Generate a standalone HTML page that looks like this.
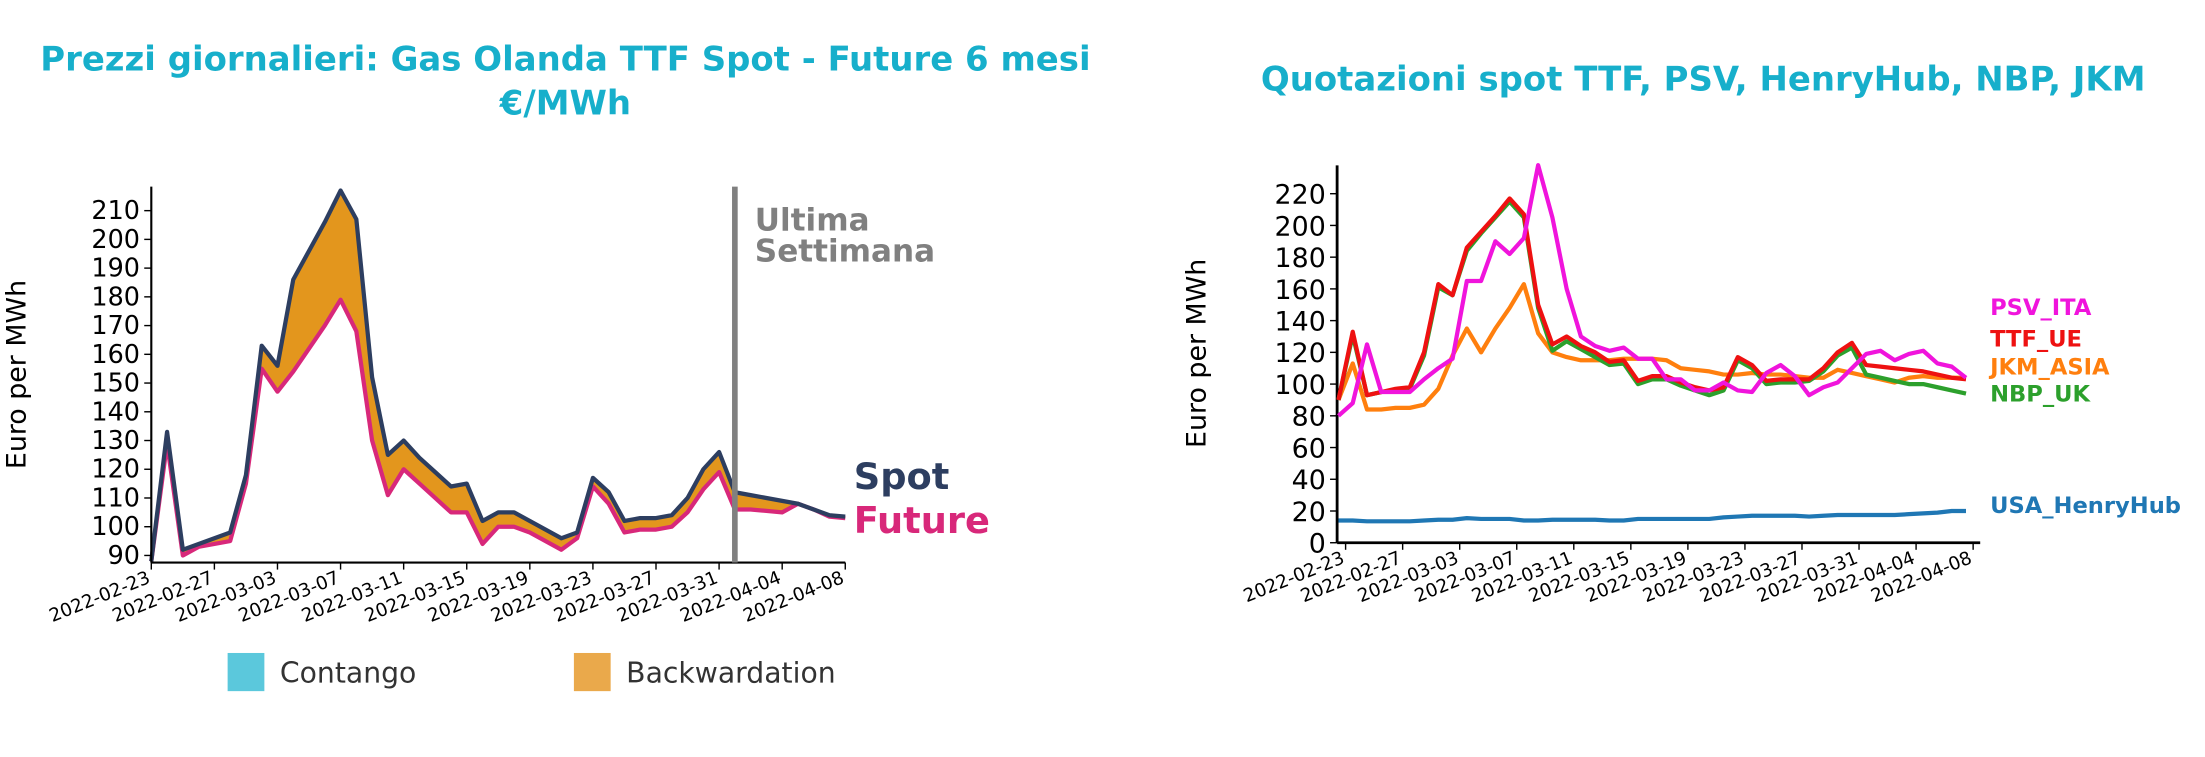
<!DOCTYPE html>
<html><head><meta charset="utf-8"><style>
html,body{margin:0;padding:0;background:#fff}
svg{display:block;font-family:"DejaVu Sans","Liberation Sans",sans-serif}
</style></head><body>
<svg id="s" width="2205" height="757" viewBox="0 0 1560 535.6">
<text x="400" y="50" text-anchor="middle" font-size="24" font-weight="bold" fill="#17afcb">Prezzi giornalieri: Gas Olanda TTF Spot - Future 6 mesi</text>
<text x="400" y="81" text-anchor="middle" font-size="24" font-weight="bold" fill="#17afcb">€/MWh</text>
<text x="1205" y="64" text-anchor="middle" font-size="24" font-weight="bold" fill="#17afcb">Quotazioni spot TTF, PSV, HenryHub, NBP, JKM</text>
<g id="left"></g>
<g id="right"></g>
</svg>
<script>
const dateLabels=["2022-02-23","2022-02-27","2022-03-03","2022-03-07","2022-03-11","2022-03-15","2022-03-19","2022-03-23","2022-03-27","2022-03-31","2022-04-04","2022-04-08"];
const spot=[88,133,92,94,96,98,118,163,156,186,196,206,217,207,152,125,130,124,119,114,115,102,105,105,102,99,96,98,117,112,102,103,103,104,110,120,126,112,111,110,109,108,106,104,103.5];
const future=[88,129,90,93,94,95,115,155,147,154,162,170,179,168,130,111,120,115,110,105,105,94,100,100,98,95,92,96,114,108,98,99,99,100,105,113,119,106,106,105.5,105,108,106,103.5,103];
const leftTicks=[90,100,110,120,130,140,150,160,170,180,190,200,210];
const ttf=[90,133,93,95,97,98,120,163,156,186,196,206,217,207,150,125,130,124,120,114,115,102,105,105,101,98,96,98,117,112,102,103,103,103,110,120,126,112,111,110,109,108,106,104,103];
const nbp=[90,131,93,95,96,97,118,161,156,184,195,205,215,205,148,121,127,122,117,112,113,100,103,103,99,96,93,96,115,110,100,101,101,102,108,118,123,106,104,102,100,100,98,96,94];
const psv=[80,88,125,95,95,95,103,110,116,165,165,190,182,192,238,205,160,130,124,121,123,116,116,103,103,96,96,101,96,95,107,112,105,93,98,101,110,119,121,115,119,121,113,111,104];
const jkm=[90,113,84,84,85,85,87,97,118,135,120,135,148,163,132,120,117,115,115,115,116,116,116,115,110,109,108,106,106,107,106,106,105,104,104,109,107,105,103,101,104,105,104,104,104];
const hh=[14,14,13.5,13.5,13.5,13.5,14,14.5,14.5,15.5,15,15,15,14,14,14.5,14.5,14.5,14.5,14,14,15,15,15,15,15,15,16,16.5,17,17,17,17,16.5,17,17.5,17.5,17.5,17.5,17.5,18,18.5,19,20,20];
const rightTicks=[0,20,40,60,80,100,120,140,160,180,200,220];
const NS="http://www.w3.org/2000/svg";
function mk(p,t,a){const e=document.createElementNS(NS,t);for(const k in a)e.setAttribute(k,a[k]);p.appendChild(e);return e;}
// left chart
const L=document.getElementById('left');
const lx=d=>107+d*(491/44), ly=v=>393-(v-90)*2.033;
let pts=spot.map((v,i)=>lx(i)+','+ly(v)).join(' ');
let fpts=future.map((v,i)=>lx(i)+','+ly(v)).reverse().join(' ');
let area=mk(L,'polygon',{points:pts+' '+fpts,fill:'#e3961d'});


let fl=mk(L,'polyline',{points:future.map((v,i)=>lx(i)+','+ly(v)).join(' '),fill:'none',stroke:'#d8287a','stroke-width':3,'stroke-linejoin':'round'});


let sl=mk(L,'polyline',{points:pts,fill:'none',stroke:'#2d3e60','stroke-width':3,'stroke-linejoin':'round'});


mk(L,'line',{x1:107,y1:132,x2:107,y2:398,stroke:'#000','stroke-width':1.5});
mk(L,'line',{x1:107,y1:398,x2:598,y2:398,stroke:'#000','stroke-width':1.5});
leftTicks.forEach(v=>{mk(L,'line',{x1:102,y1:ly(v),x2:107,y2:ly(v),stroke:'#000'});
 let t=mk(L,'text',{x:99,y:ly(v)+6,'text-anchor':'end','font-size':18});t.textContent=v;
 
 });
dateLabels.forEach((d,i)=>{const x=lx(i*4);mk(L,'line',{x1:x,y1:398,x2:x,y2:403,stroke:'#000'});
 let t=mk(L,'text',{x:x,y:412,'text-anchor':'end','font-size':13,transform:`rotate(-22 ${x} 412)`});t.textContent=d;
 
 });
mk(L,'line',{x1:lx(37),y1:132,x2:lx(37),y2:398,stroke:'#808080','stroke-width':4});
let y1=mk(L,'text',{x:18,y:265,'text-anchor':'middle','font-size':19,transform:'rotate(-90 18 265)'});y1.textContent='Euro per MWh';


[['Ultima',163],['Settimana',185]].forEach(([s,y])=>{let t=mk(L,'text',{x:534,y:y,'font-size':22,'font-weight':'bold',fill:'#808080'});t.textContent=s;
 
 });
let sp=mk(L,'text',{x:604,y:346,'font-size':26,'font-weight':'bold',fill:'#2d3e60'});sp.textContent='Spot';


let fu=mk(L,'text',{x:604,y:377,'font-size':26,'font-weight':'bold',fill:'#d8287a'});fu.textContent='Future';


[[161,'#5bc8dc','Contango'],[406,'#eaa94b','Backwardation']].forEach(([x,c,s])=>{
 let r=mk(L,'rect',{x:x,y:462,width:26,height:27,fill:c});
 
 
 let t=mk(L,'text',{x:x+37,y:483,'font-size':20,fill:'#333'});t.textContent=s;
 
 });
// right chart
const R=document.getElementById('right');
const rx=d=>952+(d-0.5)*(444/44), ry=v=>384-v*1.1225;
mk(R,'line',{x1:946,y1:117,x2:946,y2:384,stroke:'#000','stroke-width':2});
mk(R,'line',{x1:946,y1:384,x2:1401,y2:384,stroke:'#000','stroke-width':2});
rightTicks.forEach(v=>{mk(R,'line',{x1:941,y1:ry(v),x2:946,y2:ry(v),stroke:'#000'});
 let t=mk(R,'text',{x:938,y:ry(v)+7,'text-anchor':'end','font-size':19});t.textContent=v;
 
 });
dateLabels.forEach((d,i)=>{const x=952+i*4*(444/44);mk(R,'line',{x1:x,y1:384,x2:x,y2:389,stroke:'#000'});
 let t=mk(R,'text',{x:x,y:398,'text-anchor':'end','font-size':13,transform:`rotate(-22 ${x} 398)`});t.textContent=d;
 
 });
let y2=mk(R,'text',{x:853,y:250,'text-anchor':'middle','font-size':19,transform:'rotate(-90 853 250)'});y2.textContent='Euro per MWh';


[[jkm,'#ff7f0e','JKM_ASIA',265],[nbp,'#2ca02c','NBP_UK',284],[ttf,'#ee1111','TTF_UE',245],[psv,'#f014dc','PSV_ITA',223],[hh,'#1f77b4','USA_HenryHub',363]].forEach(([arr,c,n,ly2])=>{
 let p=mk(R,'polyline',{points:arr.map((v,i)=>rx(i)+','+ry(v)).join(' '),fill:'none',stroke:c,'stroke-width':3,'stroke-linejoin':'round'});
 
 
 let t=mk(R,'text',{x:1408,y:ly2,'font-size':16,'font-weight':'bold',fill:c});t.textContent=n;
 
 });
</script>
</body></html>
